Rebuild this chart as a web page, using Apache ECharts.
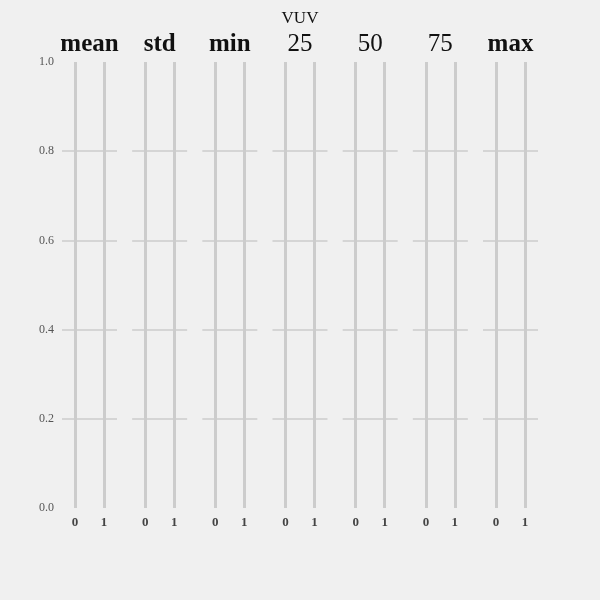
<!DOCTYPE html>
<html><head><meta charset="utf-8">
<script src="https://cdn.jsdelivr.net/npm/echarts@6/dist/echarts.min.js"></script>
<style>html,body{margin:0;padding:0;background:#f0f0f0}#c{width:600px;height:600px}</style>
</head><body><div id="c"></div>
<script>
const suptitle = 'VUV';
const columns = ['mean', 'std', 'min', '25', '50', '75', 'max'];
const xTicks = [0, 1];
const yTicks = [0, 0.2, 0.4, 0.6, 0.8, 1.0];
const seriesValues = [[], [], [], [], [], [], []];

const chart = echarts.init(document.getElementById('c'));
const font = 'Liberation Serif';
const gLeft0 = 62, gStep = 70.17, gW = 55, gTop = 62, gH = 446;
const grids = [], xAxes = [], yAxes = [], seriesList = [], titles = [];
titles.push({text: suptitle, left: 295, top: 5, textAlign: 'center',
  textStyle: {fontFamily: font, fontSize: 17, fontWeight: 'normal', color: '#111'}});
columns.forEach((c, i) => {
  const l = gLeft0 + i * gStep;
  grids.push({left: l, top: gTop, width: gW, height: gH});
  const isNum = /^\d+$/.test(c);
  titles.push({text: c, left: l + gW / 2 - 5, top: 27, textAlign: 'center',
    textStyle: {fontFamily: font, fontSize: 25, fontWeight: isNum ? 'normal' : 'bold', color: '#111'}});
  xAxes.push({type: 'value', gridIndex: i, min: -0.45, max: 1.45,
    axisLine: {show: false}, axisTick: {show: false, customValues: xTicks},
    axisLabel: {customValues: xTicks, margin: 8, fontFamily: font, fontWeight: 'bold', fontSize: 13, color: '#444'},
    splitLine: {show: true, lineStyle: {color: '#cccccc', width: 3}}});
  yAxes.push({type: 'value', gridIndex: i, min: yTicks[0], max: yTicks[yTicks.length - 1], interval: 0.2,
    axisLine: {show: false}, axisTick: {show: false},
    axisLabel: {show: i === 0, margin: 8, fontFamily: font, fontSize: 12, color: '#555',
      formatter: v => v.toFixed(1)},
    splitLine: {show: true, showMinLine: false, showMaxLine: false, lineStyle: {color: '#cccccc', width: 1.5}}});
  seriesList.push({type: 'bar', xAxisIndex: i, yAxisIndex: i, data: seriesValues[i]});
});
chart.setOption({
  backgroundColor: '#f0f0f0',
  animation: false,
  title: titles,
  grid: grids,
  xAxis: xAxes,
  yAxis: yAxes,
  series: seriesList
});
</script></body></html>
